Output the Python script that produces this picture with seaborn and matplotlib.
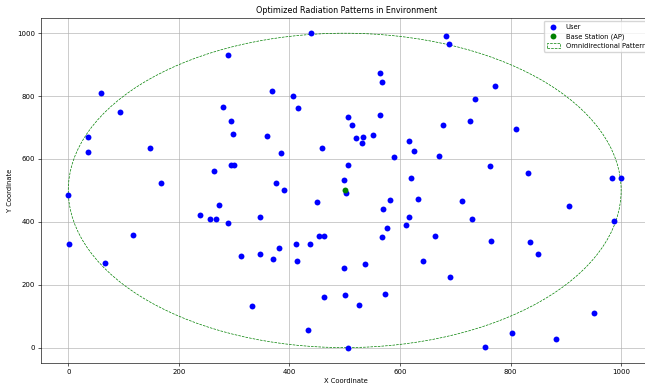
import numpy as np
import pandas as pd
import matplotlib
matplotlib.use("Agg")
import matplotlib.pyplot as plt
import seaborn as sns
from matplotlib.patches import Circle

# ==================== data ====================
user_x = [439, 683, 689, 288, 59, 368, 407, 416, 279, 295, 298, 94, 35, 35, 148, 167,
          264, 295, 299, 360, 384, 459, 376, 391, 0, 506, 506, 498, 503, 564, 513, 521,
          533, 531, 551, 563, 568, 590, 617, 626, 620, 670, 678, 726, 735, 772, 810, 763,
          832, 984, 1000, 1, 66, 117, 239, 257, 267, 272, 288, 347, 312, 347, 370, 381,
          411, 413, 438, 450, 453, 462, 498, 501, 462, 332, 434, 506, 526, 536, 572, 570,
          582, 576, 568, 611, 617, 632, 641, 663, 691, 713, 731, 765, 835, 850, 905, 987,
          951, 802, 882, 754]
user_y = [1000, 992, 965, 930, 811, 816, 800, 761, 766, 722, 679, 748, 669, 622, 635, 522,
          561, 581, 580, 672, 620, 635, 525, 502, 486, 734, 582, 533, 492, 740, 708, 666,
          670, 650, 675, 875, 845, 606, 658, 625, 540, 611, 709, 722, 792, 832, 695, 577,
          556, 541, 538, 329, 270, 357, 421, 410, 410, 454, 397, 415, 291, 299, 281, 316,
          329, 277, 329, 462, 355, 354, 252, 168, 160, 131, 56, 0, 136, 267, 171, 441,
          469, 381, 352, 389, 415, 472, 277, 354, 223, 465, 408, 340, 336, 297, 451, 404,
          110, 45, 27, 2]
ap_x = [500]
ap_y = [500]
radius = 500

users = pd.DataFrame({"x": user_x, "y": user_y})

# ==================== figure ====================
# the reference is cropped on the right, so the axes run a little past the canvas edge
fig = plt.figure(figsize=(6.45, 3.89), dpi=100)
ax = fig.add_axes([0.063, 0.066, 0.948, 0.889])

sns.scatterplot(data=users, x="x", y="y", color="blue", s=18, linewidth=0,
                label="User", ax=ax, zorder=2)
sns.scatterplot(x=ap_x, y=ap_y, color="green", s=18, linewidth=0,
                label="Base Station (AP)", ax=ax, zorder=3)

circ = Circle((ap_x[0], ap_y[0]), radius, fill=False, edgecolor="green",
              linestyle="--", linewidth=0.5, label="Omnidirectional Pattern")
ax.add_patch(circ)

ax.set_xlim(-50, 1056)
ax.set_ylim(-50, 1050)
ax.set_xticks([0, 200, 400, 600, 800, 1000])
ax.set_yticks([0, 200, 400, 600, 800, 1000])

ax.set_title("Optimized Radiation Patterns in Environment", fontsize=5.8, pad=3)
ax.set_xlabel("X Coordinate", fontsize=4.9, labelpad=2.5)
ax.set_ylabel("Y Coordinate", fontsize=4.9, labelpad=3)
ax.tick_params(labelsize=5.0, length=2, width=0.45, pad=2)
for sp in ax.spines.values():
    sp.set_linewidth(0.45)

ax.grid(True, color="#b0b0b0", linewidth=0.45)
ax.set_axisbelow(True)

ax.legend(loc="upper right", fontsize=4.9, frameon=True, borderpad=0.4,
          handlelength=2.0, labelspacing=0.5, framealpha=0.8, edgecolor="#cccccc")

fig.savefig("out.png", dpi=100)
